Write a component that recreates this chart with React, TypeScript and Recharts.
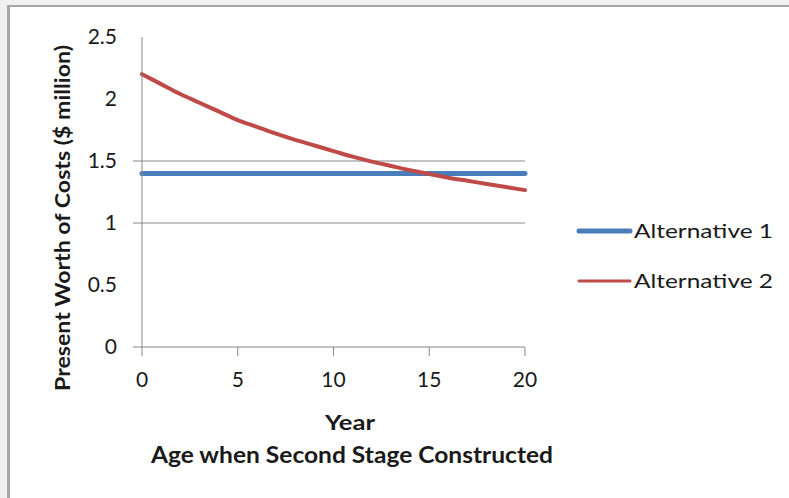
import { Line, LineChart, ReferenceLine, XAxis, YAxis } from "recharts";

const years = [0, 1, 2, 3, 4, 5, 6, 7, 8, 9, 10, 11, 12, 13, 14, 15, 16, 17, 18, 19, 20];
const alternative1 = [1.4, 1.4, 1.4, 1.4, 1.4, 1.4, 1.4, 1.4, 1.4, 1.4, 1.4, 1.4, 1.4, 1.4, 1.4, 1.4, 1.4, 1.4, 1.4, 1.4, 1.4];
const alternative2 = [
  2.2, 2.12, 2.04, 1.97, 1.9, 1.83, 1.775, 1.72, 1.67, 1.625, 1.58, 1.535, 1.495, 1.46, 1.425, 1.395, 1.365,
  1.34, 1.315, 1.29, 1.265,
];
const seriesNames = ["Alternative 1", "Alternative 2"];
const xTicks = [0, 5, 10, 15, 20];
const yTicks = [0, 0.5, 1, 1.5, 2, 2.5];
const gridValues = [1, 1.5];

const data = years.map((year, i) => ({
  year,
  alt1: alternative1[i],
  alt2: alternative2[i],
}));

const FONT = "Lato, 'Open Sans', sans-serif";
const BLUE = "#4a7ebb";
const RED = "#be4b48";
const AXIS = "#868686";
const TEXT = "#1a1a1a";

function YTick({ y, payload }: { y?: number; payload?: { value: number } }) {
  const v = payload?.value ?? 0;
  const showMark = v === 0 || gridValues.includes(v);
  return (
    <g>
      {showMark && <line x1={133} x2={142} y1={y} y2={y} stroke={AXIS} strokeWidth={1} />}
      <text x={117} y={y} dy={7} textAnchor="end" fill={TEXT} fontFamily={FONT} fontSize={21}>
        {v}
      </text>
    </g>
  );
}

function XTick({ x, y, payload }: { x?: number; y?: number; payload?: { value: number } }) {
  return (
    <text x={x} y={(y ?? 0) + 29} textAnchor="middle" fill={TEXT} fontFamily={FONT} fontSize={21}>
      {payload?.value}
    </text>
  );
}

function LegendBox() {
  const items = [
    { label: seriesNames[0], color: BLUE, width: 5 },
    { label: seriesNames[1], color: RED, width: 3 },
  ];
  return (
    <svg width={220} height={90} style={{ position: "absolute", left: 576, top: 215 }}>
      {items.map((it, i) => (
        <g key={it.label}>
          <line x1={3} x2={54} y1={16 + i * 50} y2={16 + i * 50} stroke={it.color} strokeWidth={it.width} strokeLinecap="round" />
          <text x={58} y={16 + i * 50} dy={7} fill={TEXT} fontFamily={FONT} fontSize={20} textLength={139} lengthAdjust="spacingAndGlyphs">
            {it.label}
          </text>
        </g>
      ))}
    </svg>
  );
}

export default function App() {
  return (
    <div style={{ position: "absolute", left: 0, top: 0, width: 789, height: 498, background: "#f0f0f0", overflow: "hidden" }}>
      <div
        style={{
          position: "absolute",
          left: 7,
          top: 5,
          width: 820,
          height: 520,
          background: "#fff",
          borderTop: "2px solid #a6a6a6",
          borderLeft: "3px solid #a6a6a6",
        }}
      />
      <div style={{ position: "absolute", left: 0, top: 0 }}>
        <LineChart width={789} height={498} data={data} margin={{ top: 37, right: 264, bottom: 91, left: 0 }}>
          {gridValues.map((v) => (
            <ReferenceLine key={v} y={v} stroke={AXIS} strokeWidth={1} />
          ))}
          <XAxis
            dataKey="year"
            type="number"
            domain={[0, 20]}
            ticks={xTicks}
            stroke={AXIS}
            tickSize={9}
            tick={<XTick />}
            height={60}
            label={{
              content: () => (
                <g>
                  <text x={350} y={430} textAnchor="middle" fill={TEXT} fontFamily={FONT} fontSize={21} fontWeight="bold" textLength={50} lengthAdjust="spacingAndGlyphs">
                    Year
                  </text>
                  <text x={352} y={463} textAnchor="middle" fill={TEXT} fontFamily={FONT} fontSize={22} fontWeight="bold" textLength={402} lengthAdjust="spacingAndGlyphs">
                    Age when Second Stage Constructed
                  </text>
                </g>
              ),
            }}
          />
          <YAxis
            type="number"
            domain={[0, 2.5]}
            ticks={yTicks}
            width={142}
            stroke={AXIS}
            tickLine={false}
            tick={<YTick />}
            label={{
              content: () => (
                <text
                  x={62}
                  y={218}
                  transform="rotate(-90 62 218)"
                  textAnchor="middle"
                  dy={8}
                  fill={TEXT}
                  fontFamily={FONT}
                  fontSize={21}
                  fontWeight="bold"
                  textLength={346}
                  lengthAdjust="spacingAndGlyphs"
                >
                  Present Worth of Costs ($ million)
                </text>
              ),
            }}
          />
          <Line
            type="monotone"
            dataKey="alt1"
            name={seriesNames[0]}
            stroke={BLUE}
            strokeWidth={5}
            strokeLinecap="round"
            dot={false}
            isAnimationActive={false}
          />
          <Line
            type="monotone"
            dataKey="alt2"
            name={seriesNames[1]}
            stroke={RED}
            strokeWidth={4}
            strokeLinecap="round"
            dot={false}
            isAnimationActive={false}
          />
        </LineChart>
      </div>
      <LegendBox />
    </div>
  );
}
